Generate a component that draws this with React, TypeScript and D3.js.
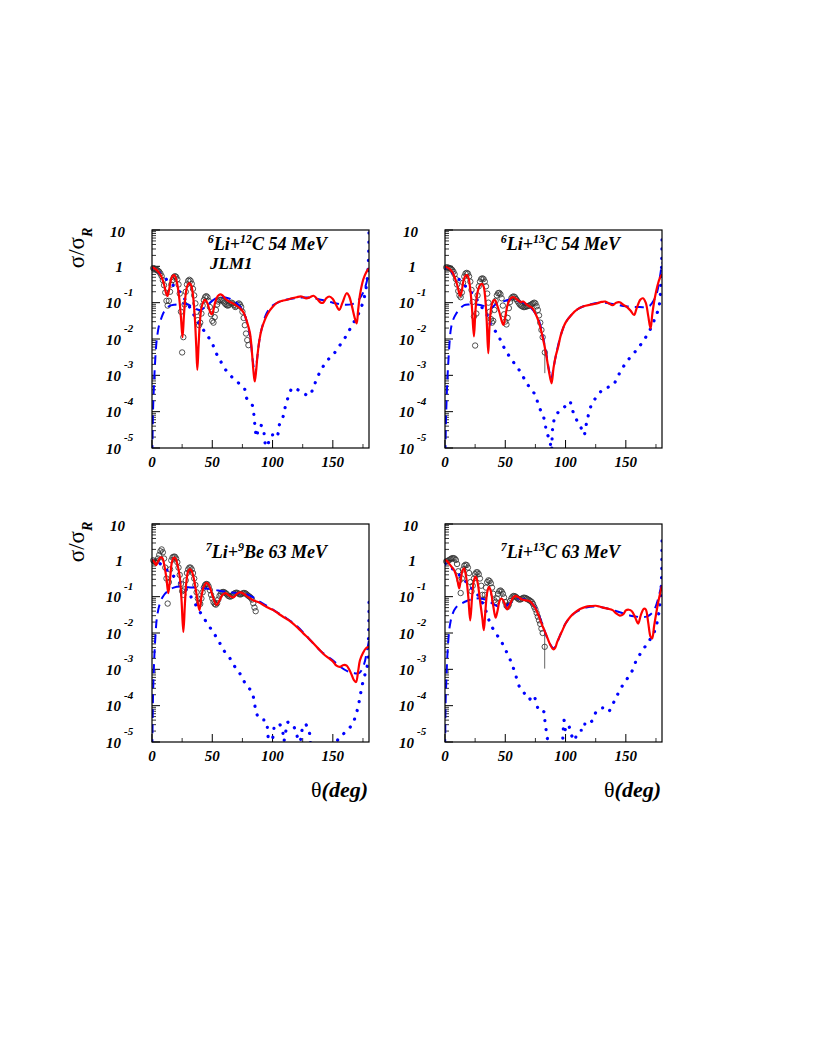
import React from "react";
import * as d3 from "d3";

type Pt = [number, number];
type Err = [number, number, number];

// log10(sigma/sigma_R), theta in degrees

// ---------- 6Li + 12C 54 MeV ----------
const tlRed: Pt[] = [[0,-0.02],[3,-0.08],[6,-0.18],[8,-0.3],[10,-0.5],[11.5,-0.72],[12.7,-0.82],[14,-0.68],[15.5,-0.4],[17,-0.27],[18.3,-0.24],[19.5,-0.3],[21,-0.5],[22.5,-0.85],[24,-1.4],[25.3,-1.95],[26.5,-1.35],[28,-0.75],[29.5,-0.52],[31,-0.46],[32.5,-0.52],[34,-0.8],[35.5,-1.4],[36.7,-2.2],[37.6,-2.85],[38.6,-2.2],[39.8,-1.5],[41,-1.15],[42.5,-0.98],[44,-0.92],[45.5,-0.98],[47,-1.12],[48.5,-1.28],[49.8,-1.32],[51,-1.2],[52.5,-0.98],[54.5,-0.82],[56.5,-0.77],[58.5,-0.8],[61,-0.9],[64,-0.97],[67,-1.02],[70,-1.08],[73,-1.15],[76,-1.28],[79,-1.55],[81.3,-1.85],[83,-2.4],[84.2,-2.9],[85.2,-3.17],[86.3,-2.9],[87.5,-2.45],[89,-2.05],[91,-1.72],[93.5,-1.48],[96,-1.3],[100,-1.12],[104,-1.0],[108,-0.95],[112,-0.92],[116,-0.88],[120,-0.85],[124,-0.83],[128,-0.88],[131,-0.85],[134,-0.81],[137,-0.9],[140,-1.0],[142,-1.0],[144.5,-0.88],[147,-0.83],[150,-0.9],[152.5,-1.05],[155.3,-1.2],[158,-1.0],[161.5,-0.74],[163.5,-0.82],[165.6,-1.06],[168,-1.4],[169.8,-1.57],[171,-1.2],[172.5,-0.79],[174.5,-0.45],[176.5,-0.25],[178.5,-0.12],[180,-0.05]];
const tlBlue: Pt[] = [[0,-6],[0.5,-4.6],[1,-3.8],[2,-3.0],[3,-2.4],[4,-2.0],[6,-1.6],[8,-1.4],[10,-1.25],[14,-1.1],[20,-1.05],[25,-1.02],[30,-1.05],[35,-1.15],[40,-1.2],[45,-1.1],[50,-0.95],[55,-0.85],[60,-0.85],[65,-0.9],[70,-1.0],[75,-1.2],[78,-1.45],[81,-1.85],[84,-2.7],[85.5,-3.0],[87,-2.6],[89,-2.05],[91,-1.72],[95,-1.3],[100,-1.08],[110,-0.93],[120,-0.87],[130,-0.86],[140,-0.92],[150,-1.0],[160,-1.06],[166,-1.04],[170,-0.98],[173,-0.85],[175.5,-0.7],[177.5,-0.5],[179,-0.3],[180,-0.1]];
const tlDot: Pt[] = [[0,-0.05],[5,-0.15],[10,-0.3],[15,-0.45],[20,-0.6],[25,-0.8],[30,-1.05],[35,-1.35],[40,-1.62],[44.5,-1.84],[49.5,-2.09],[53.1,-2.38],[56.4,-2.58],[61.1,-2.85],[66.1,-3.04],[71.1,-3.19],[76.6,-3.36],[78.5,-3.63],[83.2,-3.82],[84.6,-4.11],[85.4,-4.39],[86.8,-4.7],[88.6,-4.42],[90.5,-4.38],[92.4,-4.45],[93.2,-4.69],[95.1,-5.1],[96.8,-4.83],[98.5,-4.68],[100.1,-4.64],[102,-4.72],[104,-4.66],[105.6,-4.37],[109,-4.11],[110.6,-3.86],[113.1,-3.59],[116.7,-3.34],[120,-3.38],[123.6,-3.45],[127,-3.52],[130.5,-3.56],[134.1,-3.31],[137.4,-3.04],[141.3,-2.79],[146.3,-2.56],[151.2,-2.39],[155.9,-2.17],[160.6,-1.94],[164.8,-1.69],[168.4,-1.48],[172.5,-1.22],[175.9,-0.88],[178,-0.5],[179.3,0.0],[179.8,0.5],[180,1.0]];
const tlDataT = [1,2,3,4,5,6,7,8,9,10,11,12,13,14,15,16,17,18,19,20,21,22,23,24,25,26,27,28,29,30,31,32,33,34,35,36,37,38,39,40,41,42,43,44,45,46,47,48,49,50,51,52,53,54,55,56,57,58,59,60,61,62,63,64,65,66,67,68,69,70,71,72,73,74,75,76,77,78,79,80];
const tlDataL = [-0.05,-0.06,-0.08,-0.1,-0.12,-0.15,-0.2,-0.27,-0.38,-0.52,-0.72,-0.95,-1.08,-0.95,-0.7,-0.5,-0.38,-0.3,-0.27,-0.29,-0.36,-0.5,-0.75,-1.25,-2.37,-1.95,-1.05,-0.7,-0.5,-0.4,-0.37,-0.4,-0.48,-0.62,-0.8,-1.02,-1.25,-1.48,-1.62,-1.55,-1.3,-1.08,-0.93,-0.85,-0.82,-0.85,-0.95,-1.12,-1.32,-1.5,-1.55,-1.4,-1.2,-1.05,-0.97,-0.93,-0.92,-0.93,-0.96,-1.0,-1.04,-1.07,-1.08,-1.06,-1.02,-1.0,-1.02,-1.07,-1.12,-1.1,-1.05,-1.02,-1.05,-1.12,-1.25,-1.42,-1.62,-1.85,-2.03,-2.17];
const tlErr: Err[] = [];

// ---------- 6Li + 13C 54 MeV ----------
const trRed: Pt[] = [[0,-0.01],[3,-0.05],[6,-0.15],[8,-0.3],[10,-0.5],[11.5,-0.7],[12.5,-0.82],[13.8,-0.7],[15.3,-0.4],[17,-0.26],[18.3,-0.24],[19.7,-0.35],[21,-0.65],[22.3,-1.1],[24,-1.93],[25.3,-1.2],[26.8,-0.75],[28.5,-0.55],[30.5,-0.48],[32,-0.55],[33.3,-0.85],[34.6,-1.5],[35.9,-2.39],[37,-1.6],[38.5,-1.1],[40,-0.95],[41.5,-0.93],[43,-1.05],[45,-1.25],[47,-1.5],[48.5,-1.61],[50,-1.4],[52,-1.05],[54.5,-0.88],[57,-0.85],[60,-0.92],[62.5,-0.98],[65,-0.97],[67.5,-1.05],[70,-1.1],[72.5,-1.15],[75,-1.3],[78,-1.55],[81,-1.95],[84,-2.44],[86,-2.85],[88.4,-3.22],[90,-2.8],[92,-2.45],[94,-2.2],[96,-1.9],[100,-1.55],[105,-1.33],[110,-1.18],[115,-1.1],[120,-1.06],[125,-1.03],[130,-0.98],[133,-0.97],[136,-1.02],[139,-1.07],[142,-1.0],[145,-0.99],[148,-1.06],[151,-1.12],[154,-1.22],[156.8,-1.34],[159,-1.15],[162,-0.92],[164.2,-0.88],[166.5,-1.0],[168.5,-1.35],[170.5,-1.71],[172,-1.3],[174,-0.88],[176.5,-0.5],[178.5,-0.3],[180,-0.22]];
const trBlue: Pt[] = [[0,-6],[0.6,-4.6],[1,-4.0],[2,-3.1],[3,-2.5],[4,-2.0],[5,-1.7],[7,-1.45],[9,-1.32],[12,-1.18],[16,-1.07],[20,-1.05],[25,-1.05],[30,-1.07],[35,-1.12],[38,-1.15],[42,-1.05],[46,-1.0],[50,-0.95],[55,-0.9],[60,-0.95],[65,-1.0],[70,-1.1],[75,-1.3],[78,-1.5],[81,-1.9],[84,-2.4],[86,-2.8],[88,-3.1],[90,-2.8],[92,-2.45],[96,-1.9],[100,-1.55],[105,-1.33],[110,-1.18],[115,-1.1],[120,-1.05],[130,-1.0],[140,-1.04],[150,-1.1],[160,-1.12],[166,-1.12],[170,-1.08],[173,-0.95],[176,-0.7],[178,-0.35],[180,0.1]];
const trDot: Pt[] = [[0,-0.05],[5,-0.15],[10,-0.3],[15,-0.48],[20,-0.65],[25,-0.85],[30,-1.1],[35,-1.35],[37.9,-1.61],[44,-1.89],[47.6,-2.15],[51.7,-2.39],[56.4,-2.62],[61.4,-2.85],[65.5,-3.08],[69.7,-3.31],[75.2,-3.56],[77.4,-3.82],[80.5,-4.05],[83,-4.28],[84,-4.55],[86.3,-4.73],[87.7,-4.94],[88.3,-5.2],[89,-4.6],[89.6,-4.37],[91.8,-4.11],[96,-3.95],[99.5,-3.86],[103.4,-3.72],[105.6,-3.95],[109.2,-4.23],[113.1,-4.46],[115.3,-4.64],[117.5,-4.3],[121.4,-3.82],[125.8,-3.59],[131.3,-3.38],[135,-3.33],[139.2,-3.28],[143,-3.05],[147,-2.81],[151.8,-2.58],[158.2,-2.33],[163.1,-2.12],[169.2,-1.8],[174.2,-1.43],[177.5,-1.11],[179,-0.5],[179.7,0.1],[180,0.82]];
const trDataT = [1,2,3,4,5,6,7,8,9,10,11,12,13,14,15,16,17,18,19,20,21,22,23,24,25,26,27,28,29,30,31,32,33,34,35,36,37,38,39,40,41,42,43,44,45,46,47,48,49,50,51,52,53,54,55,56,57,58,59,60,61,62,63,64,65,66,67,68,69,70,71,72,73,74,75,76,77,78,79,80,81,82.8];
const trDataL = [-0.03,-0.03,-0.04,-0.05,-0.07,-0.1,-0.15,-0.22,-0.35,-0.5,-0.68,-0.8,-0.85,-0.72,-0.45,-0.28,-0.2,-0.18,-0.2,-0.28,-0.42,-0.65,-0.98,-1.38,-2.18,-1.3,-0.8,-0.55,-0.42,-0.35,-0.33,-0.35,-0.42,-0.55,-0.75,-1.0,-1.25,-1.45,-1.55,-1.5,-1.2,-0.95,-0.8,-0.74,-0.73,-0.77,-0.88,-1.08,-1.32,-1.52,-1.6,-1.42,-1.15,-0.98,-0.88,-0.84,-0.83,-0.85,-0.9,-0.95,-1.0,-1.05,-1.08,-1.1,-1.12,-1.12,-1.11,-1.1,-1.09,-1.08,-1.06,-1.04,-1.02,-1.0,-1.02,-1.1,-1.2,-1.35,-1.55,-1.75,-1.95,-2.37];
const trErr: Err[] = [[82.8,-2.94,-2.12]];

// ---------- 7Li + 9Be 63 MeV ----------
const blRed: Pt[] = [[0,0.02],[2,-0.05],[3.3,-0.13],[5,-0.03],[7,0.08],[8.5,0.07],[10,-0.1],[12,-0.5],[13.5,-0.9],[15,-0.5],[16.5,-0.05],[18,0.07],[19.5,0.05],[21,-0.1],[23,-0.45],[24.5,-1.1],[26,-1.97],[27.3,-1.2],[28.5,-0.6],[30,-0.3],[31.5,-0.24],[33,-0.3],[35,-0.55],[37,-0.95],[39.3,-1.37],[41,-1.0],[43,-0.72],[45.3,-0.62],[47.5,-0.7],[50,-0.95],[53.6,-1.23],[56,-1.1],[58.5,-0.95],[61,-0.9],[64,-0.97],[67.5,-1.02],[70.5,-0.92],[73,-0.88],[76,-0.92],[80,-1.02],[84,-1.1],[88,-1.15],[92.4,-1.23],[96,-1.3],[100.6,-1.37],[105,-1.47],[109,-1.56],[113,-1.64],[117,-1.74],[121,-1.86],[125.5,-2.01],[130,-2.15],[134,-2.29],[138,-2.43],[142,-2.57],[146,-2.68],[150,-2.78],[153,-2.9],[156,-2.93],[159,-2.88],[161.5,-2.9],[163.5,-3.0],[165.6,-3.15],[167.5,-3.3],[169.2,-3.35],[171,-3.05],[172.5,-2.75],[175,-2.55],[177.5,-2.42],[180,-2.38]];
const blBlue: Pt[] = [[0,-6],[0.5,-4.5],[1,-3.5],[2,-2.6],[3,-2.0],[4,-1.6],[6,-1.25],[9,-1.0],[13,-0.85],[18,-0.75],[25,-0.72],[30,-0.74],[40,-0.76],[50,-0.8],[60,-0.86],[70,-0.9],[80,-0.95],[90,-1.15],[100,-1.35],[110,-1.56],[120,-1.8],[130,-2.15],[140,-2.5],[150,-2.75],[157,-2.95],[162,-3.05],[167,-3.1],[172,-3.1],[176,-2.85],[178,-2.55],[180,-2.2]];
const blDot: Pt[] = [[0,0.0],[5,-0.05],[10,-0.2],[15,-0.35],[20,-0.5],[25,-0.68],[30,-0.88],[33.7,-1.08],[39.8,-1.42],[46.7,-1.78],[51.4,-2.01],[55.6,-2.24],[60,-2.5],[64.7,-2.7],[69.7,-2.98],[73.8,-3.16],[77.7,-3.41],[82.7,-3.62],[84.9,-3.9],[86.3,-4.17],[89.6,-4.38],[94.3,-4.41],[95.9,-4.68],[96.5,-4.91],[98,-5.1],[100.6,-4.82],[102,-4.54],[105.6,-4.51],[108.4,-4.72],[109.3,-4.98],[111,-4.7],[113,-4.45],[117.8,-4.59],[119.5,-4.76],[122.8,-5.0],[124,-4.73],[126.9,-4.5],[130.5,-4.74],[132.5,-5.2],[140,-5.6],[150,-5.3],[154.6,-4.91],[160,-4.74],[166,-4.52],[169,-4.27],[171.2,-3.99],[173,-3.67],[174.7,-3.39],[177,-3.1],[178.9,-2.84],[179.6,-2.1],[179.9,-1.65],[180,-1.1]];
const blDataT = [1,2,3,4,5,6,7,8,9,10,11,12,13,14,15,16,17,18,19,20,21,22,23,24,25,26,27,28,29,30,31,32,33,34,35,36,37,38,39,40,41,42,43,44,45,46,47,48,49,50,51,52,53,54,55,56,57,58,59,60,61,62,63,64,65,66,67,68,69,70,71,72,73,74,75,76,77,78,79,80,81,82,83,84,85,86];
const blDataL = [0.0,-0.03,-0.05,-0.02,0.05,0.15,0.25,0.3,0.22,0.05,-0.2,-0.5,-1.19,-0.6,-0.25,0.0,0.08,0.1,0.1,0.05,-0.05,-0.2,-0.4,-0.65,-0.85,-0.95,-0.8,-0.55,-0.35,-0.25,-0.2,-0.2,-0.25,-0.35,-0.5,-0.68,-0.88,-1.05,-1.18,-1.2,-1.05,-0.88,-0.75,-0.68,-0.65,-0.66,-0.72,-0.82,-0.95,-1.05,-1.15,-1.2,-1.22,-1.18,-1.08,-0.98,-0.92,-0.88,-0.87,-0.88,-0.9,-0.93,-0.97,-0.99,-1.0,-0.98,-0.95,-0.92,-0.9,-0.89,-0.9,-0.92,-0.94,-0.93,-0.91,-0.9,-0.9,-0.92,-0.95,-0.98,-1.0,-1.03,-1.08,-1.18,-1.3,-1.4];
const blErr: Err[] = [];

// ---------- 7Li + 13C 63 MeV ----------
const brRed: Pt[] = [[0,0.01],[2,-0.03],[4,-0.12],[6,-0.2],[8,-0.3],[10,-0.5],[11.8,-0.77],[13,-0.55],[14.5,-0.28],[15.8,-0.22],[17.5,-0.45],[19.3,-1.0],[20.9,-1.65],[22.5,-1.0],[24,-0.55],[25.4,-0.45],[27,-0.6],[29,-1.1],[31,-1.6],[32.2,-1.92],[33.5,-1.4],[35,-0.88],[36.5,-0.73],[38,-0.85],[40,-1.25],[42,-1.58],[43.5,-1.4],[45.5,-1.1],[47,-1.05],[49,-1.15],[51.5,-1.35],[53.5,-1.25],[56,-1.05],[58.6,-0.98],[61,-1.02],[64,-1.08],[67,-1.1],[70,-1.12],[72.5,-1.2],[75,-1.32],[78,-1.55],[81,-1.82],[84,-2.05],[87,-2.3],[90,-2.45],[91.5,-2.4],[93,-2.25],[95,-2.1],[97.5,-1.92],[100,-1.74],[104,-1.55],[108.4,-1.42],[112,-1.34],[116.7,-1.28],[121,-1.26],[125,-1.25],[128,-1.27],[131,-1.3],[135,-1.33],[139,-1.37],[142,-1.46],[145,-1.52],[148,-1.48],[150,-1.38],[152.5,-1.36],[155,-1.4],[157.5,-1.55],[160.2,-1.74],[162.5,-1.5],[165,-1.33],[166.5,-1.35],[168.5,-1.7],[170.5,-2.1],[171.8,-2.15],[173.5,-1.8],[175.5,-1.4],[177.5,-1.05],[180,-0.7]];
const brBlue: Pt[] = [[0,-6],[0.5,-3.9],[1,-3.4],[2,-2.6],[3,-2.1],[4,-1.8],[6,-1.5],[9,-1.3],[13,-1.2],[18,-1.12],[24,-1.06],[30,-1.05],[35,-1.1],[40,-1.2],[45,-1.28],[50,-1.27],[55,-1.15],[60,-1.05],[65,-1.07],[70,-1.13],[75,-1.3],[80,-1.7],[85,-2.15],[88,-2.35],[90,-2.42],[92,-2.35],[95,-2.1],[100,-1.74],[105,-1.52],[110,-1.4],[117,-1.3],[125,-1.27],[133,-1.31],[140,-1.38],[147,-1.45],[155,-1.53],[162,-1.56],[167,-1.55],[170,-1.5],[173,-1.4],[176,-1.15],[178,-0.9],[180,-0.6]];
const brDot: Pt[] = [[0,-0.1],[5,-0.2],[10,-0.35],[15.6,-0.52],[20,-0.7],[26.2,-0.91],[30,-1.1],[34,-1.4],[37.3,-1.72],[41.4,-1.97],[46.1,-2.2],[49.7,-2.43],[53.6,-2.7],[57.8,-3.07],[61.9,-3.49],[66.1,-3.67],[69.7,-3.83],[73.3,-3.71],[76,-3.96],[78.5,-4.17],[82.1,-4.17],[82.9,-4.43],[84,-4.7],[85.2,-4.97],[86.5,-5.3],[92,-5.6],[97,-5.1],[98.7,-4.4],[100.1,-4.68],[102.3,-4.54],[105,-4.82],[107.8,-4.96],[108.9,-4.82],[112.5,-4.68],[115.3,-4.68],[116.7,-4.43],[121.7,-4.43],[125.5,-4.17],[131,-4.06],[135.2,-4.17],[139.6,-3.93],[143.5,-3.67],[147.7,-3.42],[152.1,-3.21],[155.4,-3.03],[159,-2.73],[163.1,-2.52],[167.3,-2.31],[170.6,-2.15],[174.2,-1.92],[177.5,-1.42],[179,-0.87],[179.6,-0.5],[179.9,0.19],[180,0.6]];
const brDataT = [1,2,3,4,5,6,7,8,9,10,11,12,13,14,15,16,17,18,19,20,21,22,23,24,25,26,27,28,29,30,31,32,33,34,35,36,37,38,39,40,41,42,43,44,45,46,47,48,49,50,51,52,53,54,55,56,57,58,59,60,61,62,63,64,65,66,67,68,69,70,71,72,73,74,75,76,77,78,79,80,81,82.7];
const brDataL = [-0.03,-0.02,0.0,0.02,0.04,0.06,0.06,0.05,0.01,-0.1,-0.3,-0.55,-0.9,-0.5,-0.25,-0.15,-0.12,-0.13,-0.2,-0.35,-0.6,-0.85,-0.7,-0.5,-0.38,-0.33,-0.33,-0.38,-0.5,-0.7,-0.95,-1.1,-0.95,-0.75,-0.6,-0.55,-0.57,-0.63,-0.75,-0.92,-1.1,-1.15,-1.05,-0.92,-0.85,-0.83,-0.86,-0.92,-1.02,-1.15,-1.25,-1.28,-1.22,-1.12,-1.05,-1.0,-0.98,-0.99,-1.01,-1.04,-1.07,-1.08,-1.07,-1.05,-1.03,-1.03,-1.04,-1.06,-1.08,-1.1,-1.12,-1.15,-1.2,-1.28,-1.35,-1.45,-1.55,-1.65,-1.75,-1.88,-2.0,-2.38];
const brErr: Err[] = [[82.7,-2.98,-2.0]];

const xMajor = [0, 50, 100, 150];
const xMinor = [25, 75, 125, 175];
const yDecades = [1, 0, -1, -2, -3, -4, -5];

const FONT = "'Liberation Serif', 'Times New Roman', Times, serif";
const FW = 217;
const FH = 218;

interface PanelDef {
  id: string;
  fx: number;
  fy: number;
  parts: [string, string, string, string];
  labelY: number;
  extra?: string;
  red: Pt[];
  blue: Pt[];
  dot: Pt[];
  dataT: number[];
  dataL: number[];
  errs: Err[];
  yTitle: boolean;
  xTitle: boolean;
}

const panels: PanelDef[] = [
  { id: "tl", fx: 152, fy: 230, parts: ["6", "Li+", "12", "C 54 MeV"], labelY: 250, extra: "JLM1", red: tlRed, blue: tlBlue, dot: tlDot, dataT: tlDataT, dataL: tlDataL, errs: tlErr, yTitle: true, xTitle: false },
  { id: "tr", fx: 445, fy: 230, parts: ["6", "Li+", "13", "C 54 MeV"], labelY: 250, red: trRed, blue: trBlue, dot: trDot, dataT: trDataT, dataL: trDataL, errs: trErr, yTitle: false, xTitle: false },
  { id: "bl", fx: 152, fy: 524, parts: ["7", "Li+", "9", "Be 63 MeV"], labelY: 558, red: blRed, blue: blBlue, dot: blDot, dataT: blDataT, dataL: blDataL, errs: blErr, yTitle: true, xTitle: true },
  { id: "br", fx: 445, fy: 524, parts: ["7", "Li+", "13", "C 63 MeV"], labelY: 558, red: brRed, blue: brBlue, dot: brDot, dataT: brDataT, dataL: brDataL, errs: brErr, yTitle: false, xTitle: true },
];

function Panel({ p }: { p: PanelDef }) {
  const x = d3.scaleLinear().domain([0, 180]).range([p.fx, p.fx + FW]);
  const y = d3.scaleLog().domain([1e-5, 10]).range([p.fy + FH, p.fy]);
  const ly = (l: number) => y(Math.pow(10, l));
  const line = d3
    .line<Pt>()
    .x((d) => x(d[0]))
    .y((d) => ly(d[1]))
    .curve(d3.curveCatmullRom.alpha(0.5));
  const clipId = `clip-${p.id}`;

  const minorY: number[] = [];
  for (let e = -5; e <= 0; e++) for (let k = 2; k <= 9; k++) minorY.push(k * Math.pow(10, e));

  const bottom = p.fy + FH;

  return (
    <g>
      <defs>
        <clipPath id={clipId}>
          <rect x={p.fx} y={p.fy} width={FW} height={FH} />
        </clipPath>
      </defs>

      {/* ticks */}
      {yDecades.map((e) => (
        <line key={`ym${e}`} x1={p.fx} x2={p.fx + 8} y1={y(Math.pow(10, e))} y2={y(Math.pow(10, e))} stroke="#000" strokeWidth={1} />
      ))}
      {minorY.map((v, i) => (
        <line key={`yn${i}`} x1={p.fx} x2={p.fx + 4} y1={y(v)} y2={y(v)} stroke="#000" strokeWidth={0.8} />
      ))}
      {xMajor.map((t) => (
        <line key={`xm${t}`} x1={x(t)} x2={x(t)} y1={bottom} y2={bottom - 8} stroke="#000" strokeWidth={1} />
      ))}
      {xMinor.map((t) => (
        <line key={`xn${t}`} x1={x(t)} x2={x(t)} y1={bottom} y2={bottom - 4} stroke="#000" strokeWidth={0.8} />
      ))}

      {/* y tick labels */}
      {yDecades.map((e) => {
        const ty = y(Math.pow(10, e));
        if (e === 1)
          return (
            <text key={`yl${e}`} x={p.fx - 27} y={ty + 7} textAnchor="end" fontFamily={FONT} fontWeight="bold" fontStyle="italic" fontSize={15}>10</text>
          );
        if (e === 0)
          return (
            <text key={`yl${e}`} x={p.fx - 29} y={ty + 5.5} textAnchor="end" fontFamily={FONT} fontWeight="bold" fontStyle="italic" fontSize={15}>1</text>
          );
        return (
          <g key={`yl${e}`}>
            <text x={p.fx - 31} y={ty + 5.5} textAnchor="end" fontFamily={FONT} fontWeight="bold" fontStyle="italic" fontSize={15}>10</text>
            <text x={p.fx - 28} y={ty - 7} textAnchor="start" fontFamily={FONT} fontWeight="bold" fontStyle="italic" fontSize={11}>{`${e}`}</text>
          </g>
        );
      })}

      {/* x tick labels */}
      {xMajor.map((t) => (
        <text key={`xl${t}`} x={x(t)} y={bottom + 19} textAnchor="middle" fontFamily={FONT} fontWeight="bold" fontStyle="italic" fontSize={15}>{t}</text>
      ))}

      {/* data */}
      {p.errs.map((e, i) => (
        <line key={`err${i}`} x1={x(e[0])} x2={x(e[0])} y1={ly(e[1])} y2={ly(e[2])} stroke="#555" strokeWidth={0.9} />
      ))}
      {p.dataT.map((t, i) => (
        <circle key={`c${i}`} cx={x(t)} cy={ly(p.dataL[i])} r={2.7} fill="none" stroke="#333" strokeWidth={0.85} />
      ))}

      <g clipPath={`url(#${clipId})`}>
        <path d={line(p.dot) || ""} fill="none" stroke="#0000ff" strokeWidth={3.2} strokeDasharray="0.1 9" strokeLinecap="round" />
        <path d={line(p.blue) || ""} fill="none" stroke="#0000ff" strokeWidth={2} strokeDasharray="9 6" />
        <path d={line(p.red) || ""} fill="none" stroke="#ff0000" strokeWidth={2.2} />
      </g>

      {/* frame */}
      <rect x={p.fx} y={p.fy} width={FW} height={FH} fill="none" stroke="#000" strokeWidth={1.2} />

      {/* panel label */}
      <text x={p.fx + 175} y={p.labelY} textAnchor="end" fontFamily={FONT} fontWeight="bold" fontStyle="italic" fontSize={18}>
        <tspan fontSize={12} dy={-7}>{p.parts[0]}</tspan>
        <tspan dy={7}>{p.parts[1]}</tspan>
        <tspan fontSize={12} dy={-7}>{p.parts[2]}</tspan>
        <tspan dy={7}>{p.parts[3]}</tspan>
      </text>
      {p.extra && (
        <text x={p.fx + 58} y={p.labelY + 19} fontFamily={FONT} fontWeight="bold" fontStyle="italic" fontSize={17}>{p.extra}</text>
      )}

      {p.yTitle && (
        <text transform={`translate(84, ${p.fy + 18}) rotate(-90)`} textAnchor="middle" fontFamily={FONT} fontSize={23}>
          <tspan>σ/σ</tspan>
          <tspan fontSize={14} fontWeight="bold" fontStyle="italic" dy={8}>R</tspan>
        </text>
      )}
      {p.xTitle && (
        <text x={p.fx + FW - 1} y={bottom + 55} textAnchor="end" fontFamily={FONT} fontSize={22}>
          <tspan>θ</tspan>
          <tspan fontWeight="bold" fontStyle="italic">(deg)</tspan>
        </text>
      )}
    </g>
  );
}

export default function App() {
  return (
    <svg
      width={817}
      height={1058}
      viewBox="0 0 817 1058"
      style={{ position: "absolute", left: 0, top: 0, background: "#fff" }}
    >
      <rect x={0} y={0} width={817} height={1058} fill="#fff" />
      {panels.map((p) => (
        <Panel key={p.id} p={p} />
      ))}
    </svg>
  );
}
